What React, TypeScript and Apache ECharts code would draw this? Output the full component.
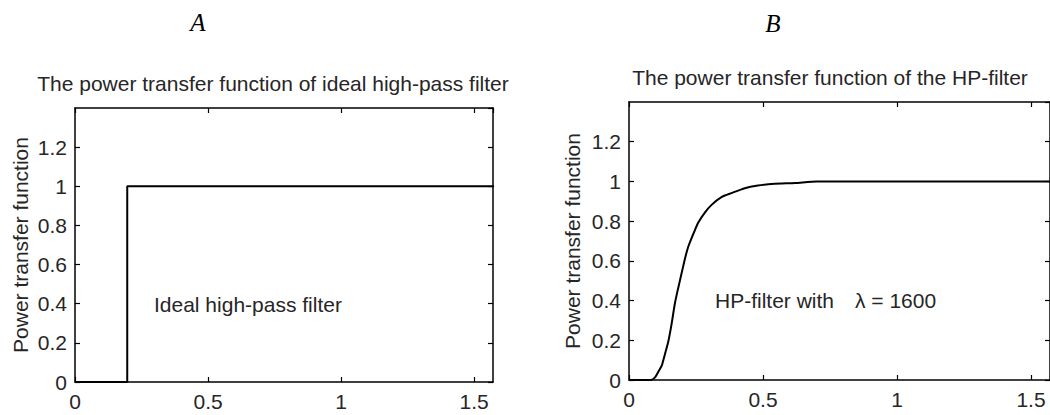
import React, { useEffect, useRef } from "react";
import * as echarts from "echarts";

const X_MAX = 1.5708;
const Y_MAX = 1.4;
const X_TICK = 0.5;
const Y_TICK = 0.2;

const idealX = [0, 0.1963, 0.1963, 1.585];
const idealY = [0, 0, 1, 1];

const hpX = [0, 0.082, 0.097, 0.109, 0.122, 0.134, 0.146, 0.159, 0.171, 0.183, 0.196, 0.209, 0.221, 0.233, 0.246, 0.258, 0.283, 0.308, 0.345, 0.382, 0.432, 0.481, 0.543, 0.62, 0.7, 1.0, 1.5708];
const hpY = [0, 0, 0.013, 0.04, 0.072, 0.13, 0.19, 0.283, 0.384, 0.46, 0.536, 0.612, 0.671, 0.713, 0.755, 0.792, 0.843, 0.882, 0.921, 0.941, 0.966, 0.979, 0.988, 0.992, 1.0, 1.0, 1.0];

const titleA = "The power transfer function of ideal high-pass filter";
const titleB = "The power transfer function of the HP-filter";
const yName = "Power transfer function";
const noteA = "Ideal high-pass filter";
const noteB1 = "HP-filter with";
const noteB2 = "λ = 1600";

const SANS = "'Liberation Sans', Arial, Helvetica, sans-serif";
const SERIF = "'Liberation Serif', 'Times New Roman', serif";
const TXT = "#262626";

function zip(xs: number[], ys: number[]) {
  return xs.map((x, i) => [x, ys[i]]);
}

export default function App() {
  const ref = useRef<HTMLDivElement>(null);
  useEffect(() => {
    document.body.style.margin = "0";
    const chart = echarts.init(ref.current!, null, { renderer: "svg" });
    const baseAxisLine = { show: true, onZero: false, lineStyle: { color: "#000", width: 1.5 } };
    const tick = { show: true, inside: true, length: 5, lineStyle: { color: "#000", width: 1.2 } };
    const label = {
      color: TXT,
      fontSize: 21,
      fontFamily: SANS,
      margin: 8,
      showMaxLabel: false,
    };
    const xAx = (gi: number) => [
      {
        type: "value",
        gridIndex: gi,
        min: 0,
        max: X_MAX,
        interval: X_TICK,
        position: "bottom",
        axisLine: baseAxisLine,
        axisTick: tick,
        axisLabel: { ...label, margin: 9 },
        splitLine: { show: false },
      },
      {
        type: "value",
        gridIndex: gi,
        min: 0,
        max: X_MAX,
        interval: X_TICK,
        position: "top",
        axisLine: baseAxisLine,
        axisTick: tick,
        axisLabel: { show: false },
        splitLine: { show: false },
      },
    ];
    const yAx = (gi: number, gap: number) => [
      {
        type: "value",
        gridIndex: gi,
        min: 0,
        max: Y_MAX,
        interval: Y_TICK,
        position: "left",
        name: yName,
        nameLocation: "middle",
        nameGap: gap,
        nameTextStyle: { color: TXT, fontSize: 21, fontFamily: SANS },
        axisLine: baseAxisLine,
        axisTick: tick,
        axisLabel: label,
        splitLine: { show: false },
      },
      {
        type: "value",
        gridIndex: gi,
        min: 0,
        max: Y_MAX,
        interval: Y_TICK,
        position: "right",
        axisLine: baseAxisLine,
        axisTick: tick,
        axisLabel: { show: false },
        splitLine: { show: false },
      },
    ];
    const txt = (x: number, y: number, text: string, align = "center", font = SANS, size = 21, italic = false) => ({
      type: "text",
      x,
      y,
      style: {
        text,
        fill: italic ? "#000" : TXT,
        font: `${italic ? "italic " : ""}${size}px ${font}`,
        align,
        verticalAlign: "middle",
      },
    });
    chart.setOption({
      animation: false,
      backgroundColor: "#fff",
      grid: [
        { left: 75, top: 108, width: 418, height: 274, containLabel: false },
        { left: 629, top: 102, width: 422, height: 278, containLabel: false },
      ],
      xAxis: [...xAx(0), ...xAx(1)],
      yAxis: [...yAx(0, 44), ...yAx(1, 46)],
      series: [
        {
          type: "line",
          xAxisIndex: 0,
          yAxisIndex: 0,
          data: zip(idealX, idealY),
          showSymbol: false,
          clip: false,
          lineStyle: { color: "#000", width: 2 },
        },
        {
          type: "line",
          xAxisIndex: 2,
          yAxisIndex: 2,
          data: zip(hpX, hpY),
          showSymbol: false,
          smooth: 0.2,
          lineStyle: { color: "#000", width: 2 },
        },
      ],
      graphic: [
        txt(198, 22, "A", "center", SERIF, 25, true),
        txt(773, 23, "B", "center", SERIF, 25, true),
        txt(273, 83, titleA),
        txt(830, 77, titleB),
        txt(154, 304, noteA, "left"),
        txt(715, 300, noteB1, "left"),
        txt(855, 300, noteB2, "left"),
      ],
    });
    return () => chart.dispose();
  }, []);
  return (
    <div
      ref={ref}
      style={{ position: "absolute", left: 0, top: 0, width: 1050, height: 415, background: "#fff" }}
    />
  );
}
